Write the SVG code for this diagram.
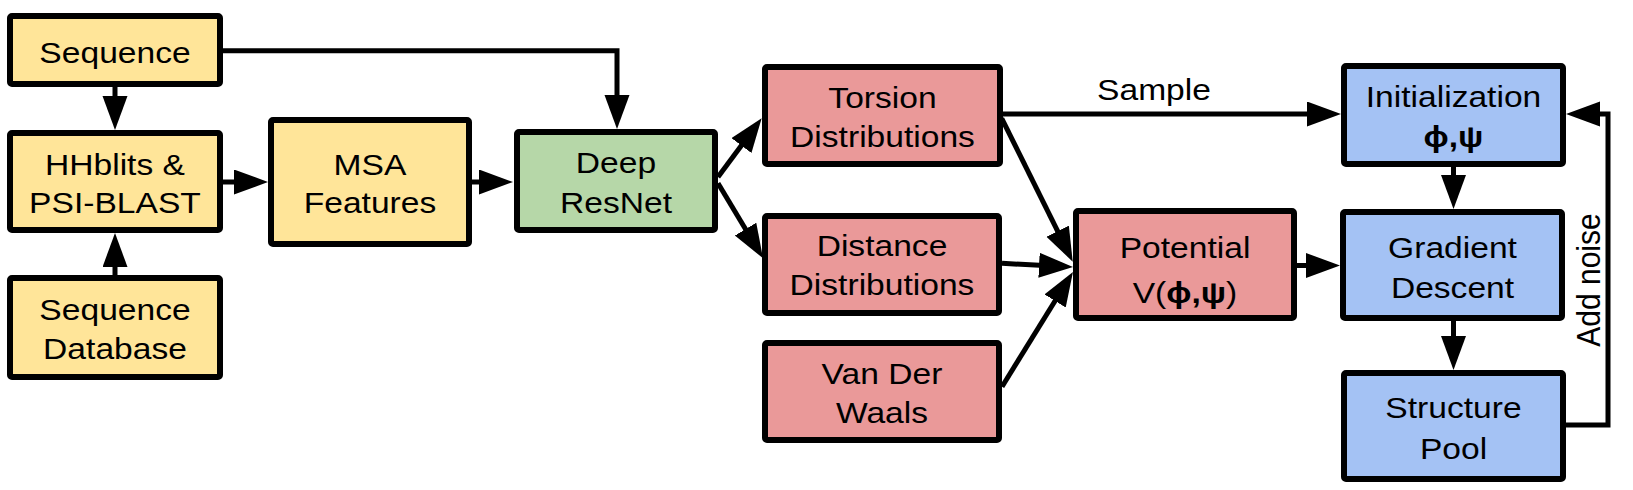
<svg xmlns="http://www.w3.org/2000/svg" width="1633" height="490" viewBox="0 0 1633 490">
<style>
.box{stroke:#000;stroke-width:6;stroke-linejoin:round}
.y{fill:#FFE599}.g{fill:#B6D7A8}.r{fill:#EA9999}.b{fill:#A4C2F4}
.t{font-family:"Liberation Sans",Arial,sans-serif;font-size:30px;fill:#000;text-anchor:middle}
.c{fill:none;stroke:#000;stroke-width:5;marker-end:url(#ah)}
</style>
<defs>
<marker id="ah" markerUnits="userSpaceOnUse" markerWidth="36" markerHeight="26" refX="24" refY="12.5" orient="auto" viewBox="0 0 36 26">
<path d="M0,0 L34,12.5 L0,25 z" fill="#000"/>
</marker>
</defs>
<rect width="1633" height="490" fill="#fff"/>
<g id="connectors">
<path class="c" d="M223,50.7 H617 V119"/>
<path class="c" d="M115,87 V120"/>
<path class="c" d="M115,275 V243"/>
<path class="c" d="M223,182 H258"/>
<path class="c" d="M472,182 H503"/>
<path class="c" d="M718,177 L755.7,126.3"/>
<path class="c" d="M718,183.3 L757.9,249.7"/>
<path class="c" d="M1003,114 H1331"/>
<path class="c" d="M1001.7,118.3 L1068.3,252.7"/>
<path class="c" d="M1002,263.3 L1063,266.5"/>
<path class="c" d="M1002,386.7 L1067.7,280.5"/>
<path class="c" d="M1297,265.5 H1330"/>
<path class="c" d="M1453.5,167 V199"/>
<path class="c" d="M1453.5,321 V360"/>
<path class="c" d="M1566,425 H1608 V114 H1576"/>
<text class="t" transform="translate(1154 0) scale(1.12 1)"><tspan x="0" y="100">Sample</tspan></text>
<text class="t" transform="translate(1600 280) scale(1.12 1) rotate(-90)" x="0" y="0">Add noise</text>
</g>
<g id="sequence">
<rect class="box y" x="10" y="16" width="210" height="68" rx="2"/>
<text class="t" transform="translate(115 0) scale(1.12 1)"><tspan x="0" y="62.7">Sequence</tspan></text>
</g>
<g id="hhblits">
<rect class="box y" x="10" y="133" width="210" height="97" rx="2"/>
<text class="t" transform="translate(115 0) scale(1.12 1)"><tspan x="0" y="175">HHblits &amp;</tspan><tspan x="0" y="213.3">PSI-BLAST</tspan></text>
</g>
<g id="database">
<rect class="box y" x="10" y="278" width="210" height="99" rx="2"/>
<text class="t" transform="translate(115 0) scale(1.12 1)"><tspan x="0" y="320">Sequence</tspan><tspan x="0" y="359.3">Database</tspan></text>
</g>
<g id="msa">
<rect class="box y" x="271" y="120" width="198" height="124" rx="2"/>
<text class="t" transform="translate(370 0) scale(1.12 1)"><tspan x="0" y="175">MSA</tspan><tspan x="0" y="213.3">Features</tspan></text>
</g>
<g id="resnet">
<rect class="box g" x="517" y="132" width="198" height="98" rx="2"/>
<text class="t" transform="translate(616 0) scale(1.12 1)"><tspan x="0" y="173.3">Deep</tspan><tspan x="0" y="212.7">ResNet</tspan></text>
</g>
<g id="torsion">
<rect class="box r" x="765" y="67" width="235" height="97" rx="2"/>
<text class="t" transform="translate(882.5 0) scale(1.12 1)"><tspan x="0" y="108.3">Torsion</tspan><tspan x="0" y="146.7">Distributions</tspan></text>
</g>
<g id="distance">
<rect class="box r" x="765" y="216" width="234" height="97" rx="2"/>
<text class="t" transform="translate(882 0) scale(1.12 1)"><tspan x="0" y="256">Distance</tspan><tspan x="0" y="295">Distributions</tspan></text>
</g>
<g id="vdw">
<rect class="box r" x="765" y="343" width="234" height="97" rx="2"/>
<text class="t" transform="translate(882 0) scale(1.12 1)"><tspan x="0" y="384">Van Der</tspan><tspan x="0" y="423.3">Waals</tspan></text>
</g>
<g id="potential">
<rect class="box r" x="1076" y="211" width="218" height="107" rx="2"/>
<text class="t" transform="translate(1185 0) scale(1.12 1)"><tspan x="0" y="258.3">Potential</tspan><tspan x="0" y="303.3">V(<tspan font-weight="bold">ϕ,ψ</tspan>)</tspan></text>
</g>
<g id="init">
<rect class="box b" x="1344" y="66" width="219" height="98" rx="2"/>
<text class="t" transform="translate(1453.5 0) scale(1.12 1)"><tspan x="0" y="106.7">Initialization</tspan><tspan x="0" y="147" font-weight="bold">ϕ,ψ</tspan></text>
</g>
<g id="gradient">
<rect class="box b" x="1343" y="212" width="219" height="106" rx="2"/>
<text class="t" transform="translate(1452.5 0) scale(1.12 1)"><tspan x="0" y="258.3">Gradient</tspan><tspan x="0" y="298.3">Descent</tspan></text>
</g>
<g id="structure">
<rect class="box b" x="1344" y="373" width="219" height="106" rx="2"/>
<text class="t" transform="translate(1453.5 0) scale(1.12 1)"><tspan x="0" y="418.3">Structure</tspan><tspan x="0" y="459.3">Pool</tspan></text>
</g>
</svg>
